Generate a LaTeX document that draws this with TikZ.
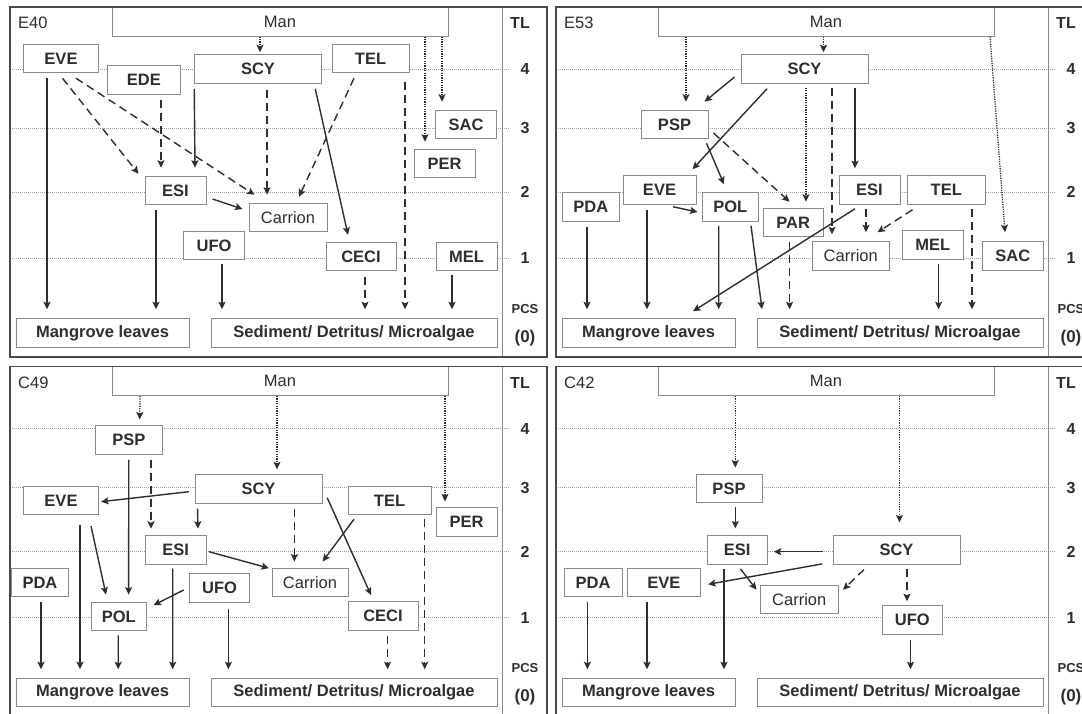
\documentclass[tikz,border=0pt]{standalone}
\usepackage{fontspec}
\setmainfont{Liberation Sans}
\usepackage{tikz}
\usetikzlibrary{arrows.meta}

\definecolor{framegray}{HTML}{4A4A4A}
\definecolor{boxgray}{HTML}{8A8A8A}
\definecolor{inkgray}{HTML}{2E2E2E}
\definecolor{levelgray}{HTML}{A0A0A0}

\tikzset{
  box/.style={draw=boxgray, line width=1pt, fill=white, inner sep=0pt,
    minimum height=28.5pt, text=inkgray, font=\bfseries\fontsize{16.5}{18}\selectfont},
  plainbox/.style={box, font=\fontsize{16.5}{18}\selectfont},
  tag/.style={inner sep=0pt, text=inkgray, font=\fontsize{16.5}{18}\selectfont},
  lvl/.style={inner sep=0pt, text=inkgray, font=\bfseries\fontsize{16}{18}\selectfont},
  level/.style={draw=levelgray, line width=0.9pt, dash pattern=on 1pt off 1pt},
  frame/.style={draw=framegray, line width=1.3pt},
  sep/.style={draw=boxgray, line width=1pt},
  arr/.style={draw=inkgray, line width=1.4pt, -{Stealth[length=7.5pt,width=7pt,inset=1.5pt]}},
  darr/.style={arr, dash pattern=on 8pt off 5pt},
  oarr/.style={arr, line width=1.3pt, dash pattern=on 1.2pt off 1.2pt}
}

% common parts of one site panel
\newcommand{\webpanel}[1]{%
  \foreach \y/\t in {69/4,128/3,192/2,258/1}{
    \draw[level] (12,\y) -- (510,\y);
    \node[lvl] (lv\t) at (525,\y) {\t};
  }
  \node[plainbox, minimum width=336pt, minimum height=29pt] (man) at (280,21.5) {Man};
  \node[tag, anchor=west] (site) at (18,23) {#1};
  \node[lvl] (tl) at (520,23) {TL};
  \node[lvl, font=\bfseries\fontsize{13}{14}\selectfont] (pcs) at (525,309) {PCS};
  \node[lvl, font=\bfseries\fontsize{17}{18}\selectfont] (zero) at (525,338) {(0)};
  \node[box, minimum width=173pt] (mang) at (102.5,333) {Mangrove leaves};
  \node[box, minimum width=286pt] (sed) at (354,333) {Sediment/ Detritus/ Microalgae};
  \draw[sep] (502,7) -- (502,357);
  \draw[frame] (10,7) rectangle (547,357);
}

\begin{document}
\begin{tikzpicture}[x=1pt,y=-1pt]
  \fill[white] (0,0) rectangle (1082,713);
  \clip (0,0) rectangle (1082,713);

  % E40
  \begin{scope}[name prefix=a-]
    \webpanel{E40}
    \node[box, minimum width=75pt] (eve) at (61,58.5) {EVE};
    \node[box, minimum width=73.5pt] (ede) at (143.8,80) {EDE};
    \node[box, minimum width=126.5pt] (scy) at (258,69) {SCY};
    \node[box, minimum width=77pt] (tel) at (370.5,58.5) {TEL};
    \node[box, minimum width=60.5pt] (sac) at (466,124.5) {SAC};
    \node[box, minimum width=61pt] (per) at (444.5,163.5) {PER};
    \node[box, minimum width=61pt] (esi) at (175.5,190.5) {ESI};
    \node[plainbox, minimum width=78pt] (car) at (288,217.5) {Carrion};
    \node[box, minimum width=60.5pt] (ufo) at (214,245.5) {UFO};
    \node[box, minimum width=70pt] (ceci) at (361,256.5) {CECI};
    \node[box, minimum width=61pt] (mel) at (466.5,256.5) {MEL};
    \draw[oarr] ([shift={(-20,0)}]man.south) -- ([shift={(2,-2)}]scy.north);
    \draw[oarr] ([shift={(145,0)}]man.south) -- ([shift={(-19.5,-7)}]per.north);
    \draw[oarr] ([shift={(162,0)}]man.south) -- ([shift={(-24,-8)}]sac.north);
    \draw[arr] ([shift={(-14,5)}]eve.south) -- ([shift={(-55.5,-9)}]mang.north);
    \draw[darr] ([shift={(1.5,5)}]eve.south) -- ([shift={(-6,-2)}]esi.north west);
    \draw[darr] ([shift={(15,5)}]eve.south) -- ([shift={(6,-8)}]car.north west);
    \draw[darr] ([shift={(17.2,5)}]ede.south) -- ([shift={(-14.5,-8)}]esi.north);
    \draw[arr] ([shift={(0,5)}]scy.south west) -- ([shift={(19.5,-8)}]esi.north);
    \draw[darr] ([shift={(9,6)}]scy.south) -- ([shift={(-21,-8)}]car.north);
    \draw[arr] ([shift={(-6.5,5)}]scy.south east) -- ([shift={(-13,-7)}]ceci.north);
    \draw[darr] ([shift={(-16.5,5)}]tel.south) -- ([shift={(11,-6)}]car.north);
    \draw[arr] ([shift={(6,8.5)}]esi.east) -- ([shift={(-6,-8.5)}]car.west);
    \draw[arr] ([shift={(-19.5,5)}]esi.south) -- ([shift={(53.5,-9)}]mang.north);
    \draw[arr] ([shift={(8,4)}]ufo.south) -- ([shift={(-132,-9)}]sed.north);
    \draw[darr] ([shift={(4,6)}]ceci.south) -- ([shift={(11,-9)}]sed.north);
    \draw[darr] ([shift={(34.5,9)}]tel.south) -- ([shift={(51,-9)}]sed.north);
    \draw[arr] ([shift={(-14.5,4)}]mel.south) -- ([shift={(98,-9)}]sed.north);
  \end{scope}

  % E53
  \begin{scope}[shift={(546,0)}, name prefix=b-]
    \webpanel{E53}
    \node[box, minimum width=127pt] (scy) at (258.5,69) {SCY};
    \node[box, minimum width=67pt] (psp) at (128.5,124.5) {PSP};
    \node[box, minimum width=73pt] (eve) at (113.5,190) {EVE};
    \node[box, minimum width=57.5pt] (pda) at (44.75,207) {PDA};
    \node[box, minimum width=55.5pt] (pol) at (184.25,207) {POL};
    \node[box, minimum width=60.5pt] (par) at (247.25,222.5) {PAR};
    \node[box, minimum width=61pt] (esi) at (323.5,190) {ESI};
    \node[box, minimum width=77.5pt] (tel) at (400.25,190) {TEL};
    \node[plainbox, minimum width=77.5pt] (car) at (304.75,256) {Carrion};
    \node[box, minimum width=60.4pt] (mel) at (386.8,245) {MEL};
    \node[box, minimum width=60.5pt] (sac) at (466.75,256) {SAC};
    \draw[oarr] ([shift={(-140,0)}]man.south) -- ([shift={(11.5,-8)}]psp.north);
    \draw[oarr] ([shift={(-2.5,0)}]man.south) -- ([shift={(19,-2)}]scy.north);
    \draw[oarr] ([shift={(164,0)}]man.south) -- ([shift={(-7.75,-9)}]sac.north);
    \draw[arr] ([shift={(-6,8)}]scy.west) -- ([shift={(-4,-8)}]psp.north east);
    \draw[arr] ([shift={(26.5,5)}]scy.south west) -- ([shift={(-4,-6)}]eve.north east);
    \draw[oarr] ([shift={(1.5,4)}]scy.south) -- ([shift={(12.75,-6)}]par.north);
    \draw[darr] ([shift={(27.5,4)}]scy.south) -- ([shift={(-18.75,-7)}]car.north);
    \draw[arr] ([shift={(50.5,4)}]scy.south) -- ([shift={(-14.5,-7)}]esi.north);
    \draw[arr] ([shift={(-2,4)}]psp.south east) -- ([shift={(-6.25,-8)}]pol.north);
    \draw[darr] ([shift={(5,8.5)}]psp.east) -- ([shift={(-3.65,-6)}]par.north);
    \draw[arr] ([shift={(13.5,2)}]eve.south) -- ([shift={(-4.5,5)}]pol.west);
    \draw[arr] ([shift={(-3.75,5)}]pda.south) -- ([shift={(-61.5,-9)}]mang.north);
    \draw[arr] ([shift={(-12.5,5)}]eve.south) -- ([shift={(-1.5,-9)}]mang.north);
    \draw[arr] ([shift={(-11.5,4)}]pol.south) -- ([shift={(70.2,-9)}]mang.north);
    \draw[arr] ([shift={(20.75,4)}]pol.south) -- ([shift={(-138,-9)}]sed.north);
    \draw[arr] ([shift={(-14.5,4)}]esi.south) -- ([shift={(44.5,-7)}]mang.north);
    \draw[darr] ([shift={(-3.5,4)}]esi.south) -- ([shift={(15.25,-9)}]car.north);
    \draw[darr] ([shift={(5.5,5)}]tel.south west) -- ([shift={(-12.5,-9)}]car.north east);
    \draw[darr] ([shift={(-3.65,5)}]par.south) -- ([shift={(-110.4,-9)}]sed.north);
    \draw[arr] ([shift={(5.8,4)}]mel.south) -- ([shift={(38.6,-9)}]sed.north);
    \draw[darr] ([shift={(25.75,4)}]tel.south) -- ([shift={(72,-9)}]sed.north);
  \end{scope}

  % C49
  \begin{scope}[shift={(0,359.5)}, name prefix=c-]
    \webpanel{C49}
    \node[box, minimum width=66.4pt] (psp) at (128.8,80.5) {PSP};
    \node[box, minimum width=127pt] (scy) at (258.5,129.6) {SCY};
    \node[box, minimum width=75pt] (eve) at (61,141) {EVE};
    \node[box, minimum width=83pt] (tel) at (389.5,141) {TEL};
    \node[box, minimum width=61pt] (per) at (466.5,162.7) {PER};
    \node[box, minimum width=61.5pt] (esi) at (175.75,190.3) {ESI};
    \node[plainbox, minimum width=76pt] (car) at (310,222.8) {Carrion};
    \node[box, minimum width=57pt] (pda) at (40,223) {PDA};
    \node[box, minimum width=60.2pt] (ufo) at (219.5,228.5) {UFO};
    \node[box, minimum width=55.7pt] (pol) at (118.85,257.1) {POL};
    \node[box, minimum width=70pt] (ceci) at (383,256.3) {CECI};
    \draw[oarr] ([shift={(-140,0)}]man.south) -- ([shift={(10.9,-5.7)}]psp.north);
    \draw[oarr] ([shift={(-3,0)}]man.south) -- ([shift={(18.5,-5)}]scy.north);
    \draw[oarr] ([shift={(165,0)}]man.south) -- ([shift={(-21.5,-6)}]per.north);
    \draw[arr] ([shift={(0,5)}]psp.south) -- ([shift={(9.75,-7.3)}]pol.north);
    \draw[darr] ([shift={(22.2,5)}]psp.south) -- ([shift={(-24.75,-6.3)}]esi.north);
    \draw[arr] ([shift={(-5.6,2.6)}]scy.west) -- ([shift={(2.1,1.2)}]eve.east);
    \draw[arr] ([shift={(3,4.7)}]scy.south west) -- ([shift={(22.25,-6.3)}]esi.north);
    \draw[darr] ([shift={(35.9,4.7)}]scy.south) -- ([shift={(-15.6,-6)}]car.north);
    \draw[arr] ([shift={(4.7,8.6)}]scy.east) -- ([shift={(-12,-6)}]ceci.north);
    \draw[arr] ([shift={(6.5,4)}]tel.south west) -- ([shift={(12.6,-6)}]car.north);
    \draw[darr] ([shift={(35.2,4)}]tel.south) -- ([shift={(70.7,-8.5)}]sed.north);
    \draw[arr] ([shift={(19,10)}]eve.south) -- ([shift={(-22.5,-8.5)}]mang.north);
    \draw[arr] ([shift={(30,10.7)}]eve.south) -- ([shift={(-12.85,-7.3)}]pol.north);
    \draw[arr] ([shift={(2,1.9)}]esi.east) -- ([shift={(-2.6,0.6)}]car.north west);
    \draw[arr] ([shift={(-3,4)}]esi.south) -- ([shift={(70.2,-8.5)}]mang.north);
    \draw[arr] ([shift={(-5.2,2)}]ufo.west) -- ([shift={(6.3,3.4)}]pol.north east);
    \draw[arr] ([shift={(8.9,6)}]ufo.south) -- ([shift={(-125.6,-8.5)}]sed.north);
    \draw[arr] ([shift={(1,4.7)}]pda.south) -- ([shift={(-61.5,-8.5)}]mang.north);
    \draw[arr] ([shift={(-0.65,4)}]pol.south) -- ([shift={(15.7,-8.5)}]mang.north);
    \draw[darr] ([shift={(4.6,5)}]ceci.south) -- ([shift={(33.6,-8.5)}]sed.north);
  \end{scope}

  % C42
  \begin{scope}[shift={(546,359.5)}, name prefix=d-]
    \webpanel{C42}
    \node[box, minimum width=66pt] (psp) at (183,128.85) {PSP};
    \node[box, minimum width=60.5pt] (esi) at (191.25,190.65) {ESI};
    \node[box, minimum width=127pt] (scy) at (350.5,190.65) {SCY};
    \node[box, minimum width=58pt] (pda) at (47,223) {PDA};
    \node[box, minimum width=73.7pt] (eve) at (117.85,223) {EVE};
    \node[plainbox, minimum width=77.5pt] (car) at (253.25,240) {Carrion};
    \node[box, minimum width=60.7pt] (ufo) at (366.35,260.5) {UFO};
    \draw[oarr] ([shift={(-90.7,0)}]man.south) -- ([shift={(6.3,-6)}]psp.north);
    \draw[oarr] ([shift={(73.5,0)}]man.south) -- ([shift={(3,-13)}]scy.north);
    \draw[arr] ([shift={(6.3,4.3)}]psp.south) -- ([shift={(-1.95,-7)}]esi.north);
    \draw[arr] ([shift={(-9.6,1.5)}]scy.west) -- ([shift={(5.8,1.5)}]esi.east);
    \draw[arr] ([shift={(-10.3,-1)}]scy.south west) -- ([shift={(6.9,1.8)}]eve.east);
    \draw[arr] ([shift={(3.25,4)}]esi.south) -- ([shift={(-3.5,5)}]car.north west);
    \draw[darr] ([shift={(-32.5,4.7)}]scy.south) -- ([shift={(4.5,5)}]car.north east);
    \draw[darr] ([shift={(10.5,4)}]scy.south) -- ([shift={(-5.35,-4)}]ufo.north);
    \draw[arr] ([shift={(-5.6,4.7)}]pda.south) -- ([shift={(-61.1,-8.5)}]mang.north);
    \draw[arr] ([shift={(-16.85,4.7)}]eve.south) -- ([shift={(-1.5,-8.5)}]mang.north);
    \draw[arr] ([shift={(-13.25,4)}]esi.south) -- ([shift={(75.5,-8.5)}]mang.north);
    \draw[arr] ([shift={(-1.85,5.7)}]ufo.south) -- ([shift={(10.5,-8.5)}]sed.north);
  \end{scope}
\end{tikzpicture}
\end{document}
